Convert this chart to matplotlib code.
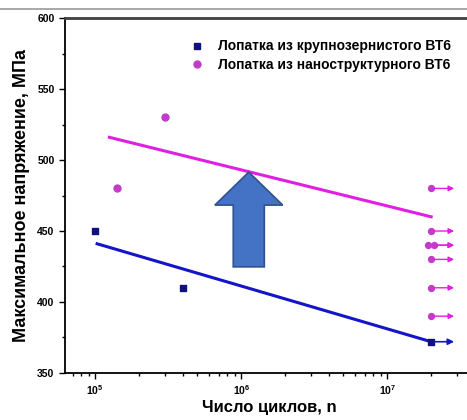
import matplotlib
matplotlib.use("Agg")
import matplotlib.pyplot as plt
from matplotlib.patches import FancyArrow
from matplotlib.lines import Line2D
import numpy as np

plt.rcParams["font.family"] = ["Liberation Sans", "DejaVu Sans"]
plt.rcParams["font.weight"] = "bold"

# coarse-grained blades (failed)
cg_n = [1e5, 4e5]
cg_s = [450, 410]
# coarse-grained runout
cg_run_n = [2e7]
cg_run_s = [372]
# nanostructured blades (failed)
ns_n = [1.42e5, 3.0e5]
ns_s = [480, 530]
# nanostructured runouts
ns_run_n = [2e7, 2e7, 1.9e7, 2.1e7, 2e7, 2e7, 2e7]
ns_run_s = [480, 450, 440, 440, 430, 410, 390]
# fit lines
cg_fit_n = [1.03e5, 2e7]
cg_fit_s = [441, 372]
ns_fit_n = [1.25e5, 2e7]
ns_fit_s = [516, 460]
run_end = 3.0e7

blue = "#1414C8"
mag = "#E020E0"
mag_pt = "#C23CC8"

fig = plt.figure(figsize=(4.67, 4.2), dpi=100)
ax = fig.add_axes([0.139, 0.112, 0.875, 0.845])

ax.plot(cg_fit_n, cg_fit_s, color=blue, lw=2.2)
ax.plot(ns_fit_n, ns_fit_s, color=mag, lw=2.2)

ax.scatter(cg_n + cg_run_n, cg_s + cg_run_s, marker="s", s=22, color="#101080", zorder=3)
ax.scatter(ns_n, ns_s, marker="o", s=25, color=mag_pt, zorder=3)
ax.scatter(ns_run_n, ns_run_s, marker="o", s=18, color=mag_pt, zorder=3)

for n0, s0 in zip(cg_run_n, cg_run_s):
    ax.annotate("", xy=(run_end, s0), xytext=(n0, s0),
                arrowprops=dict(arrowstyle="-|>", color=blue, lw=1.2, mutation_scale=9))
for n0, s0 in zip(ns_run_n, ns_run_s):
    ax.annotate("", xy=(run_end, s0), xytext=(max(n0, 2e7), s0),
                arrowprops=dict(arrowstyle="-|>", color=mag, lw=1.0, mutation_scale=8))

# big block arrow
ax.add_patch(FancyArrow(0.450, 0.299, 0, 0.267, width=0.076, head_width=0.166,
                        head_length=0.093, length_includes_head=True,
                        transform=ax.transAxes, facecolor="#4472C4",
                        edgecolor="#2F528F", lw=1.2, zorder=4))

ax.set_xscale("log")
ax.set_xlim(6.2e4, 3.9e7)
ax.set_ylim(350, 600)
ax.set_yticks([350, 400, 450, 500, 550, 600])
ax.set_yticks([375, 425, 475, 525, 575], minor=True)
ax.tick_params(axis="both", which="major", labelsize=7.5, length=4, width=1)
ax.tick_params(axis="both", which="minor", length=2.5, width=1)
for lab in ax.get_xticklabels() + ax.get_yticklabels():
    lab.set_fontweight("bold")

for side in ["left", "bottom"]:
    ax.spines[side].set_linewidth(1.3)
ax.spines["top"].set_linewidth(2.0)
ax.spines["top"].set_color("#404040")
ax.spines["right"].set_visible(False)

ax.set_xlabel("Число циклов, n", fontsize=12, fontweight="bold", labelpad=2)
ax.set_ylabel("Максимальное напряжение, МПа", fontsize=13, fontweight="bold", labelpad=5)

handles = [
    Line2D([], [], marker="s", ls="none", color="#101080", markersize=4.5),
    Line2D([], [], marker="o", ls="none", color=mag_pt, markersize=5),
]
ax.legend(handles, ["Лопатка из крупнозернистого ВТ6", "Лопатка из наноструктурного ВТ6"],
          loc="upper right", bbox_to_anchor=(0.975, 0.975), frameon=False,
          prop={"size": 10, "weight": "bold"}, handletextpad=1.0,
          labelspacing=0.35, handlelength=1.0)

fig.add_artist(Line2D([0, 1], [0.978, 0.978], color="#999999", lw=1.2,
                      transform=fig.transFigure))

fig.savefig("out.png", dpi=100)
